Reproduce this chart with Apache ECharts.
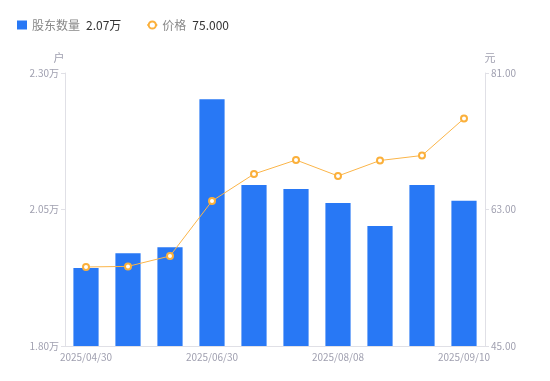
<!DOCTYPE html>
<html><head><meta charset="utf-8">
<script src="https://cdn.jsdelivr.net/npm/echarts@6/dist/echarts.min.js"></script>
<style>html,body{margin:0;padding:0;background:#fff}#c{width:550px;height:381px}</style>
</head><body><div id="c"></div>
<script>
const categories = ['2025/04/30','2025/05/20','2025/05/31','2025/06/30','2025/07/10','2025/07/20','2025/08/08','2025/08/20','2025/08/29','2025/09/10'];
const holders = [19430, 19700, 19810, 22520, 20950, 20875, 20620, 20200, 20950, 20660];
const prices = [55.42, 55.50, 56.87, 64.12, 67.68, 69.53, 67.42, 69.46, 70.12, 75.00];
const leftTicks = [18000, 23000, 2500];
const rightTicks = [45, 81, 18];

const chart = echarts.init(document.getElementById('c'));
const font = '"Noto Sans CJK SC", "Noto Sans", sans-serif';
const lastH = (holders[holders.length-1]/10000).toFixed(2) + '万';
const lastP = prices[prices.length-1].toFixed(3);
chart.setOption({
  animation: false,
  textStyle: {fontFamily: font},
  legend: {
    left: 12, top: 14, itemWidth: 10, itemHeight: 9, itemGap: 25,
    textStyle: {fontSize: 12, color: '#888', rich: {v: {color: '#333', fontSize: 12, padding: [0,0,0,6]}}},
    formatter: function(n){ return n + '{v|' + (n === '股东数量' ? lastH : lastP) + '}'; },
    data: [{name: '股东数量', icon: 'rect'}, {name: '价格'}]
  },
  grid: {left: 65, right: 65, top: 73, bottom: 35},
  xAxis: {
    type: 'category', data: categories,
    axisLine: {lineStyle: {color: '#e0e0e6'}},
    axisTick: {show: false},
    axisLabel: {color: '#a0a0b0', fontSize: 10, interval: 2, margin: 6},
  },
  yAxis: [{
    type: 'value', name: '户', min: leftTicks[0], max: leftTicks[1], interval: leftTicks[2],
    nameTextStyle: {color: '#a0a0b0', fontSize: 11, padding: [0, 12, 0, 0]}, nameGap: 10,
    axisLine: {show: true, lineStyle: {color: '#e0e0e6'}},
    axisTick: {show: true, length: 4, lineStyle: {color: '#e0e0e6'}},
    splitLine: {show: false},
    axisLabel: {color: '#a0a0b0', fontSize: 10, margin: 6, formatter: v => (v/10000).toFixed(2) + '万'}
  }, {
    type: 'value', name: '元', min: rightTicks[0], max: rightTicks[1], interval: rightTicks[2],
    nameTextStyle: {color: '#a0a0b0', fontSize: 11, padding: [0, 0, 0, 10]}, nameGap: 10,
    axisLine: {show: true, lineStyle: {color: '#e0e0e6'}},
    axisTick: {show: true, length: 4, lineStyle: {color: '#e0e0e6'}},
    splitLine: {show: false},
    axisLabel: {color: '#a0a0b0', fontSize: 10, margin: 6, formatter: v => v.toFixed(2)}
  }],
  series: [{
    name: '股东数量', type: 'bar', data: holders, barWidth: '60%',
    itemStyle: {color: '#2878f5'}
  }, {
    name: '价格', type: 'line', yAxisIndex: 1, data: prices,
    symbol: 'emptyCircle', symbolSize: 6,
    lineStyle: {color: '#fbb549', width: 1},
    itemStyle: {color: '#fbb03b', borderWidth: 2}
  }]
});
</script></body></html>
